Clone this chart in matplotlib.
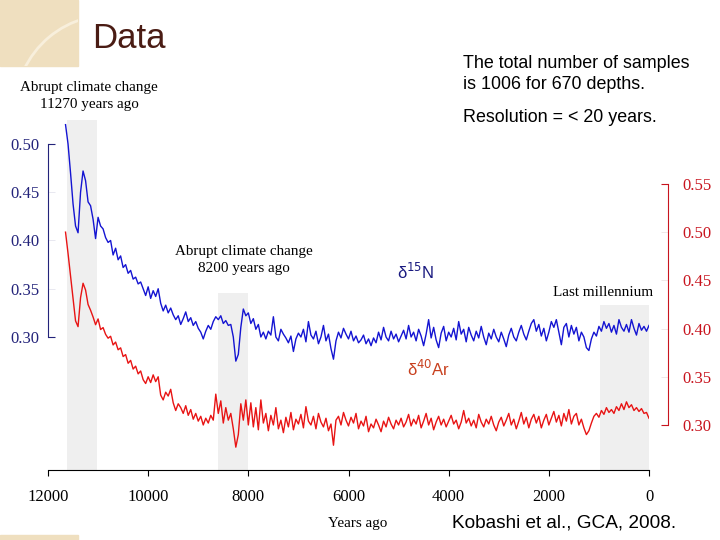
import numpy as np
import matplotlib
matplotlib.use('Agg')
import matplotlib.pyplot as plt
from matplotlib.ticker import FixedLocator, FormatStrFormatter
from matplotlib.patches import Rectangle, Arc

# years before present, one sample every 50 years (11650 -> 0)
years = np.arange(11650, -1, -50)

# d15N (left axis)
d15n = [
    0.520, 0.500, 0.470, 0.438, 0.415, 0.408, 0.450, 0.472, 0.462, 0.440, 0.436, 0.422, 0.402, 0.424,
    0.415, 0.412, 0.403, 0.398, 0.400, 0.385, 0.392, 0.380, 0.384, 0.372, 0.375, 0.366, 0.369, 0.360, 0.362, 0.355, 0.357, 0.350, 0.343, 0.352,
    0.340, 0.348, 0.342, 0.350, 0.335, 0.327, 0.333, 0.325, 0.330, 0.323, 0.318, 0.322, 0.313, 0.319, 0.326, 0.316, 0.320, 0.312, 0.316, 0.309,
    0.305, 0.298, 0.306, 0.312, 0.308, 0.316, 0.321, 0.318, 0.322, 0.314, 0.317, 0.312, 0.313, 0.300, 0.275, 0.282, 0.310, 0.329, 0.322, 0.325,
    0.314, 0.319, 0.308, 0.313, 0.300, 0.305, 0.298, 0.306, 0.302, 0.321, 0.300, 0.296, 0.308, 0.303, 0.299, 0.294, 0.301, 0.285, 0.298, 0.304,
    0.300, 0.308, 0.295, 0.316, 0.302, 0.298, 0.306, 0.293, 0.300, 0.312, 0.296, 0.303, 0.288, 0.277, 0.296, 0.305, 0.299, 0.309, 0.303, 0.298,
    0.306, 0.296, 0.301, 0.294, 0.297, 0.302, 0.293, 0.298, 0.291, 0.299, 0.294, 0.305, 0.297, 0.310, 0.300, 0.296, 0.306, 0.298, 0.303, 0.295,
    0.301, 0.307, 0.298, 0.312, 0.300, 0.305, 0.296, 0.308, 0.301, 0.291, 0.303, 0.318, 0.299, 0.310, 0.297, 0.289, 0.304, 0.311, 0.296, 0.305,
    0.300, 0.309, 0.297, 0.316, 0.303, 0.308, 0.295, 0.310, 0.302, 0.296, 0.306, 0.299, 0.311, 0.300, 0.292, 0.304, 0.298, 0.308, 0.300, 0.295,
    0.305, 0.298, 0.290, 0.302, 0.309, 0.300, 0.296, 0.305, 0.312, 0.303, 0.297, 0.306, 0.314, 0.318, 0.306, 0.313, 0.301, 0.309, 0.296, 0.305,
    0.316, 0.310, 0.318, 0.305, 0.292, 0.310, 0.314, 0.300, 0.312, 0.303, 0.310, 0.296, 0.305, 0.300, 0.289, 0.286, 0.298, 0.305, 0.301, 0.311,
    0.306, 0.316, 0.309, 0.314, 0.305, 0.312, 0.303, 0.318, 0.310, 0.306, 0.313, 0.305, 0.318, 0.309, 0.302, 0.314, 0.307, 0.311, 0.306, 0.312,
]

# d40Ar (right axis)
d40ar = [
    0.500, 0.478, 0.455, 0.432, 0.408, 0.402, 0.432, 0.447, 0.440, 0.425, 0.419, 0.412, 0.404, 0.410,
    0.399, 0.401, 0.394, 0.390, 0.392, 0.383, 0.386, 0.378, 0.380, 0.371, 0.373, 0.364, 0.367, 0.358, 0.361, 0.353, 0.356, 0.347, 0.343, 0.350,
    0.344, 0.352, 0.345, 0.350, 0.331, 0.326, 0.334, 0.330, 0.337, 0.323, 0.315, 0.322, 0.318, 0.312, 0.320, 0.310, 0.316, 0.306, 0.312, 0.304,
    0.309, 0.300, 0.307, 0.302, 0.310, 0.305, 0.332, 0.312, 0.325, 0.302, 0.318, 0.305, 0.312, 0.296, 0.277, 0.290, 0.322, 0.305, 0.326, 0.300,
    0.323, 0.298, 0.318, 0.295, 0.326, 0.302, 0.312, 0.294, 0.310, 0.300, 0.318, 0.296, 0.305, 0.292, 0.308, 0.298, 0.313, 0.295, 0.306, 0.301,
    0.311, 0.297, 0.319, 0.304, 0.300, 0.309, 0.296, 0.312, 0.303, 0.298, 0.307, 0.294, 0.301, 0.279, 0.305, 0.309, 0.300, 0.313, 0.305, 0.299,
    0.308, 0.302, 0.312, 0.296, 0.304, 0.299, 0.309, 0.293, 0.301, 0.297, 0.306, 0.300, 0.293, 0.304, 0.298, 0.308, 0.301, 0.296, 0.305, 0.300,
    0.307, 0.298, 0.303, 0.311, 0.299, 0.306, 0.301, 0.310, 0.297, 0.304, 0.312, 0.300, 0.307, 0.295, 0.303, 0.309, 0.300, 0.306, 0.298, 0.304,
    0.310, 0.301, 0.305, 0.296, 0.303, 0.315, 0.302, 0.307, 0.299, 0.305, 0.297, 0.311, 0.303, 0.298, 0.306, 0.301, 0.309, 0.300, 0.294, 0.303,
    0.308, 0.299, 0.305, 0.312, 0.300, 0.306, 0.296, 0.304, 0.313, 0.301, 0.308, 0.297, 0.306, 0.311, 0.302, 0.309, 0.297, 0.305, 0.311, 0.300,
    0.307, 0.314, 0.303, 0.310, 0.299, 0.312, 0.304, 0.316, 0.301, 0.309, 0.312, 0.300, 0.306, 0.297, 0.290, 0.294, 0.302, 0.309, 0.312, 0.308,
    0.315, 0.311, 0.318, 0.313, 0.316, 0.312, 0.319, 0.315, 0.322, 0.316, 0.324, 0.318, 0.321, 0.315, 0.318, 0.314, 0.317, 0.312, 0.313, 0.307,
]

# shaded periods (years ago) and how high they reach on the d15N scale
band_start = [11620, 8600, 970]
band_end = [11020, 8000, 0]
band_top = [0.525, 0.346, 0.333]

x_ticks = [12000, 10000, 8000, 6000, 4000, 2000, 0]

serif = ['Liberation Serif', 'DejaVu Serif']
sans = ['Liberation Sans', 'DejaVu Sans']
navy = '#23237a'
red_axis = '#c8141e'

fig = plt.figure(figsize=(7.2, 5.4), dpi=100)
fig.patch.set_facecolor('white')

# slide decoration, top-left corner
deco = fig.add_axes([0, 0, 1, 1], zorder=-5)
deco.set_xlim(0, 720)
deco.set_ylim(540, 0)
deco.axis('off')
corner = Rectangle((0, 0), 78, 66, color='#efdfbf')
deco.add_patch(corner)
arc = Arc((110, 110), 190, 190, theta1=180, theta2=280, color='#f8efdc', lw=2)
deco.add_patch(arc)
arc.set_clip_path(corner)
deco.add_patch(Rectangle((0, 535), 78, 5, color='#efdfbf'))

fig.text(92 / 720, 1 - 38 / 540, 'Data', fontsize=25, color='#4a1c14',
         family=sans, va='center', ha='left')

ax = fig.add_axes([48 / 720, 70 / 540, 601 / 720, 360 / 540])
ax.set_xlim(12000, 0)
ax.set_ylim(0.1622, 0.5352)

for s, e, t in zip(band_start, band_end, band_top):
    ax.fill_between([s, e], [0.1622, 0.1622], [t, t], color='#efefef', lw=0, zorder=0)

ax.plot(years, d15n, color='#1414d2', lw=1.0, zorder=3)

ax.spines['top'].set_visible(False)
ax.spines['right'].set_visible(False)
ax.spines['left'].set_bounds(0.30, 0.50)
ax.spines['left'].set_color(navy)
ax.spines['bottom'].set_color('black')

ax.yaxis.set_major_locator(FixedLocator([0.30, 0.50]))
ax.yaxis.set_minor_locator(FixedLocator([0.35, 0.40, 0.45]))
ax.yaxis.set_major_formatter(FormatStrFormatter('%.2f'))
ax.yaxis.set_minor_formatter(FormatStrFormatter('%.2f'))
ax.tick_params(axis='y', which='both', direction='in', length=5, pad=6,
               labelsize=12, labelcolor=navy, colors=navy)
ax.tick_params(axis='y', which='minor', color='#e4e4ee')
for lab in ax.get_yticklabels(which='both'):
    lab.set_family(serif)
    lab.set_color(navy)

ax.set_xticks(x_ticks)
ax.set_xticklabels([str(v) for v in x_ticks])
ax.tick_params(axis='x', direction='out', length=4, pad=10, labelsize=12)
for lab in ax.get_xticklabels():
    lab.set_family(serif)

ax2 = ax.twinx()
ax2.set_ylim(0.2533, 0.6267)
ax2.plot(years, d40ar, color='#e81414', lw=1.0, zorder=3)
for sp in ['top', 'left', 'bottom']:
    ax2.spines[sp].set_visible(False)
ax2.spines['right'].set_position(('axes', (668 - 48) / 601))
ax2.spines['right'].set_bounds(0.30, 0.55)
ax2.spines['right'].set_color(red_axis)
ax2.yaxis.set_major_locator(FixedLocator([0.30, 0.55]))
ax2.yaxis.set_minor_locator(FixedLocator([0.35, 0.40, 0.45, 0.50]))
ax2.yaxis.set_major_formatter(FormatStrFormatter('%.2f'))
ax2.yaxis.set_minor_formatter(FormatStrFormatter('%.2f'))
ax2.tick_params(axis='y', which='both', direction='in', length=5, pad=10,
                labelsize=12, colors=red_axis)
ax2.tick_params(axis='y', which='minor', color='#eee4e4')
for lab in ax2.get_yticklabels(which='both'):
    lab.set_family(serif)
    lab.set_color(red_axis)

# annotations (pixel positions on the slide)
def px(x, y, s, **kw):
    fig.text(x / 720, 1 - y / 540, s, **kw)

px(89, 96, 'Abrupt climate change\n11270 years ago', family=serif, fontsize=10.9,
   ha='center', va='center', linespacing=1.45)
px(244, 260, 'Abrupt climate change\n8200 years ago', family=serif, fontsize=10.9,
   ha='center', va='center', linespacing=1.45)
px(603, 293, 'Last millennium', family=serif, fontsize=10.9, ha='center', va='center')
px(397, 272, 'δ$^{15}$N', family=sans, fontsize=12, color='#1a1a80',
   ha='left', va='center')
px(407, 369, 'δ$^{40}$Ar', family=sans, fontsize=12, color='#c8401e',
   ha='left', va='center')
px(358, 523, 'Years ago', family=serif, fontsize=10.9, ha='center', va='center')

px(463, 74, 'The total number of samples\nis 1006 for 670 depths.', family=sans,
   fontsize=12.9, ha='left', va='center', linespacing=1.35)
px(463, 118, 'Resolution = < 20 years.', family=sans, fontsize=12.9, ha='left', va='center')
px(452, 523, 'Kobashi et al., GCA, 2008.', family=sans, fontsize=13.7, ha='left', va='center')

fig.savefig('out.png', dpi=100)
